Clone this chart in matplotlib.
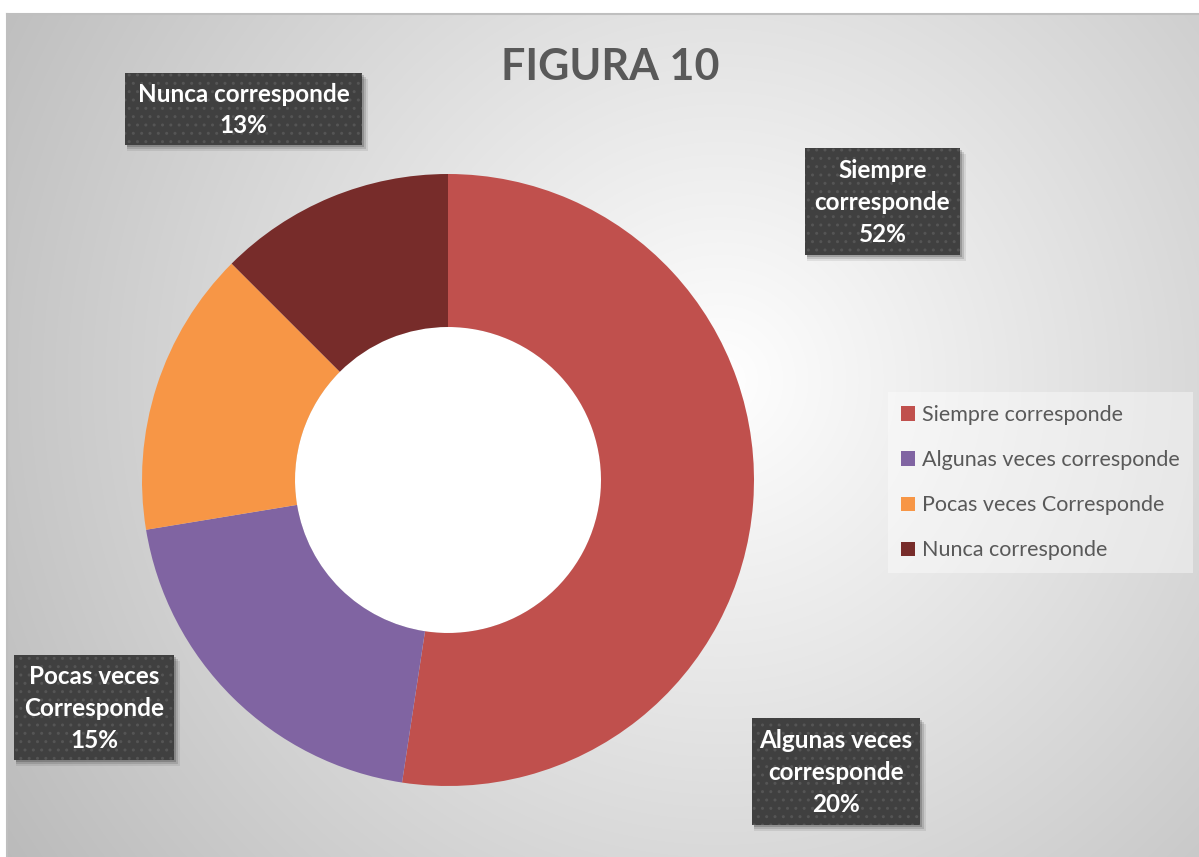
import numpy as np
import matplotlib
matplotlib.use("Agg")
import matplotlib.pyplot as plt
from matplotlib.patches import Rectangle, Circle

categories = ["Siempre corresponde", "Algunas veces corresponde",
              "Pocas veces Corresponde", "Nunca corresponde"]
values = [52.4, 20.0, 15.1, 12.5]
box_labels = ["Siempre\ncorresponde\n52%", "Algunas veces\ncorresponde\n20%",
              "Pocas veces\nCorresponde\n15%", "Nunca corresponde\n13%"]
colors = ["#C0504D", "#8064A2", "#F79646", "#772C2A"]
title = "FIGURA 10"

W, H = 1199, 857
fig = plt.figure(figsize=(W / 100, H / 100), dpi=100)
ax = fig.add_axes([0, 0, 1, 1])

# background radial gradient (chart area)
x0, x1, ytop = 7, W, 14
yy, xx = np.mgrid[0:H - ytop, 0:W - x0]
cx, cy = 720 - x0, 380 - ytop
d = np.sqrt((xx - cx) ** 2 + (yy - cy) ** 2)
g = 1.0 - 0.25 * np.clip(d / 800, 0, 1.2)
img = np.dstack([g, g, g])
ax.imshow(img, extent=(x0, x1, 0, H - ytop), origin="upper", zorder=0, aspect="auto")
ax.plot([x0, x1], [H - ytop, H - ytop], color="#bfbfbf", lw=1.5, zorder=1)
ax.plot([x0, x0], [0, H - ytop], color="#bfbfbf", lw=1.5, zorder=1)

# donut
center = (448, H - 480)
wedges, _ = ax.pie(values, colors=colors, startangle=90, counterclock=False,
                   center=center, radius=306,
                   wedgeprops=dict(width=153, edgecolor="none", linewidth=0),
                   frame=True)
ax.add_patch(Circle(center, 153, fc="white", ec="none", zorder=0.5))
ax.set_xlim(0, W)
ax.set_ylim(0, H)
ax.axis("off")

# title
ax.text(610, H - 67, title, ha="center", va="center", fontsize=31,
        fontweight="bold", color="#595959", family="Lato")

# label boxes (x0, y0, x1, y1) in pixels from top
boxes = [(805, 148, 960, 255), (752, 718, 920, 825),
         (14, 655, 174, 760), (125, 73, 362, 145)]
for (bx0, by0, bx1, by1), lab in zip(boxes, box_labels):
    w, h = bx1 - bx0, by1 - by0
    for k, a in [(6, 0.08), (4, 0.12), (2, 0.18)]:
        ax.add_patch(Rectangle((bx0 + 2, H - by1 - k), w + k - 2, h, fc="#000000",
                               ec="none", alpha=a, zorder=4))
    ax.add_patch(Rectangle((bx0, H - by1), w, h, fc="#404040", ec="none", zorder=5))
    ax.add_patch(Rectangle((bx0, H - by1), w, h, fc="none", ec="#555555",
                           lw=0, hatch="..", zorder=5.5))
    ax.text((bx0 + bx1) / 2, H - (by0 + by1) / 2 - 1, lab, ha="center", va="center",
            fontsize=17.5, fontweight="bold", color="white", family="Lato",
            linespacing=1.45, zorder=6)

# legend
handles = [Rectangle((0, 0), 1, 1, fc=c, ec="none") for c in colors]
leg = fig.legend(handles, categories, loc="upper left",
                 bbox_to_anchor=(888 / W, 1 - 392 / H), frameon=True,
                 prop=dict(family="Lato", size=15.5), labelcolor="#595959",
                 handlelength=0.65, handleheight=0.65, handletextpad=0.35,
                 labelspacing=1.17, borderpad=0.6, borderaxespad=0,
                 fancybox=False)
leg.get_frame().set_facecolor("white")
leg.get_frame().set_alpha(0.4)
leg.get_frame().set_edgecolor("none")

fig.savefig("out.png", dpi=100, facecolor="white")
